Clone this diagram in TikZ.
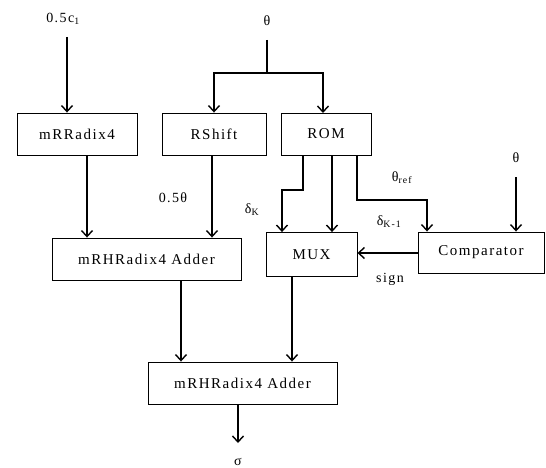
\documentclass[tikz,border=0pt]{standalone}
\usepackage{fontspec}
\setmainfont{Liberation Serif}[LetterSpace=10]
\usetikzlibrary{arrows.meta}
\begin{document}
\begin{tikzpicture}[x=1pt,y=-1pt,
  blk/.style={draw, line width=0.9pt, inner sep=0pt, font=\fontsize{15}{17}\selectfont},
  lbl/.style={inner sep=0pt, font=\fontsize{14}{16}\selectfont},
  conn/.style={line width=1.4pt, -{Straight Barb[length=6pt,width=11pt,line width=1.4pt]}},
  wire/.style={line width=1.4pt}]
\useasboundingbox (0,0) rectangle (546,468);
% blocks
\node[blk, minimum width=120pt, minimum height=42pt] (mr) at (77,134) {mRRadix4};
\node[blk, minimum width=104pt, minimum height=42pt] (rs) at (214,134) {RShift};
\node[blk, minimum width=90pt, minimum height=42pt] (rom) at (326,134) {ROM};
\node[blk, minimum width=189pt, minimum height=42pt] (ad1) at (146.5,259) {mRHRadix4 Adder};
\node[blk, minimum width=91pt, minimum height=44pt] (mux) at (311.5,254.5) {MUX};
\node[blk, minimum width=126pt, minimum height=41pt] (cmp) at (481,252.5) {Comparator};
\node[blk, minimum width=189pt, minimum height=42pt] (ad2) at (242.5,383) {mRHRadix4 Adder};
% labels
\node[lbl] (c1) at (63,19) {0.5c\textsubscript{1}};
\node[lbl] (th) at (267,21) {θ};
\node[lbl] (th2) at (516,158) {θ};
\node[lbl] (half) at (173,198) {0.5θ};
\node[lbl] (dk) at (252,210) {δ\textsubscript{K}};
\node[lbl] (dk1) at (389,222) {δ\textsubscript{K-1}};
\node[lbl] (thref) at (402,178) {θ\textsubscript{ref}};
\node[lbl] (sign) at (390,279) {sign};
\node[lbl] (sig) at (238,462) {σ};
% coordinates
\coordinate (j) at (267,73);
% connectors
\draw[conn] (67,37) -- (mr.north -| 67,0);
\draw[wire] (267,40) -- (j);
\draw[conn] (j) -| (rs.north);
\draw[conn] (j) -| (323,113);
\draw[conn] (mr.south -| 87,0) -- (ad1.north -| 87,0);
\draw[conn] (rs.south -| 212,0) -- (ad1.north -| 212,0);
\draw[conn] (rom.south -| 303,0) |- (282,190) -- (mux.north -| 282,0);
\draw[conn] (rom.south -| 332,0) -- (mux.north -| 332,0);
\draw[conn] (rom.south -| 357,0) |- (427,200) -- (cmp.north -| 427,0);
\draw[conn] (516,177) -- (cmp.north -| 516,0);
\draw[conn] (cmp.west |- 0,253) -- (mux.east |- 0,253);
\draw[conn] (ad1.south -| 181,0) -- (ad2.north -| 181,0);
\draw[conn] (mux.south -| 292,0) -- (ad2.north -| 292,0);
\draw[conn] (ad2.south -| 238,0) -- (238,443);
\end{tikzpicture}
\end{document}
